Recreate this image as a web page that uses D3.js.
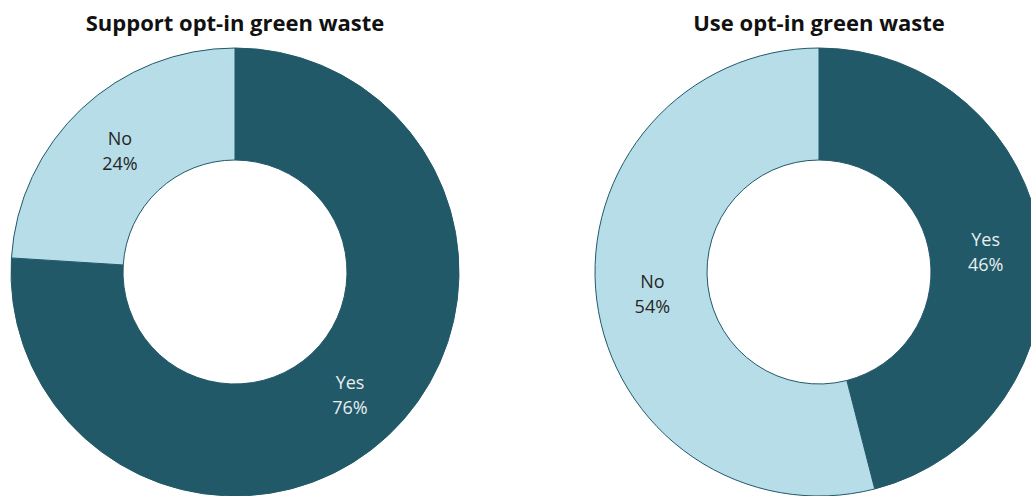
<!DOCTYPE html>
<html>
<head>
<meta charset="utf-8">
<script src="https://cdn.jsdelivr.net/npm/d3@7"></script>
<style>
  body { margin: 0; background: #fff; }
  svg { display: block; font-family: "Open Sans", "Noto Sans", sans-serif; }
</style>
</head>
<body>
<div id="chart"></div>
<script>
// data
const titles = ['Support opt-in green waste', 'Use opt-in green waste'];
const categories = ['Yes', 'No'];
const supportValues = [76, 24];
const useValues = [46, 54];

const width = 1031, height = 496;
const outer = 224, inner = 112;
const centers = [[235, 272], [819, 272]];

const color = d3.scaleOrdinal().domain(categories).range(['#215968', '#b7dde8']);
const textColor = d3.scaleOrdinal().domain(categories).range(['#e8eef0', '#262626']);

const svg = d3.select('#chart')
  .append('svg')
  .attr('width', width)
  .attr('height', height);

const pie = d3.pie().sort(null).value(d => d[1]);
const arc = d3.arc().innerRadius(inner).outerRadius(outer);

[supportValues, useValues].forEach((vals, i) => {
  const g = svg.append('g')
    .attr('transform', `translate(${centers[i][0]}, ${centers[i][1]})`);

  const data_ready = pie(categories.map((c, j) => [c, vals[j]]));

  g.selectAll('path')
    .data(data_ready)
    .join('path')
    .attr('d', arc)
    .attr('fill', d => color(d.data[0]))
    .attr('stroke', '#215968')
    .attr('stroke-width', 1);

  const labels = g.selectAll('text.lbl')
    .data(data_ready)
    .join('text')
    .attr('class', 'lbl')
    .attr('transform', d => `translate(${arc.centroid(d)})`)
    .attr('text-anchor', 'middle')
    .style('font-size', '18px')
    .attr('fill', d => textColor(d.data[0]));

  labels.append('tspan')
    .attr('x', 0)
    .attr('y', -5)
    .text(d => d.data[0]);
  labels.append('tspan')
    .attr('x', 0)
    .attr('y', 20)
    .text(d => d.data[1] + '%');

  svg.append('text')
    .attr('x', centers[i][0])
    .attr('y', 31)
    .attr('text-anchor', 'middle')
    .style('font-size', '22px')
    .style('font-weight', 'bold')
    .attr('fill', '#111')
    .text(titles[i]);
});
</script>
</body>
</html>
